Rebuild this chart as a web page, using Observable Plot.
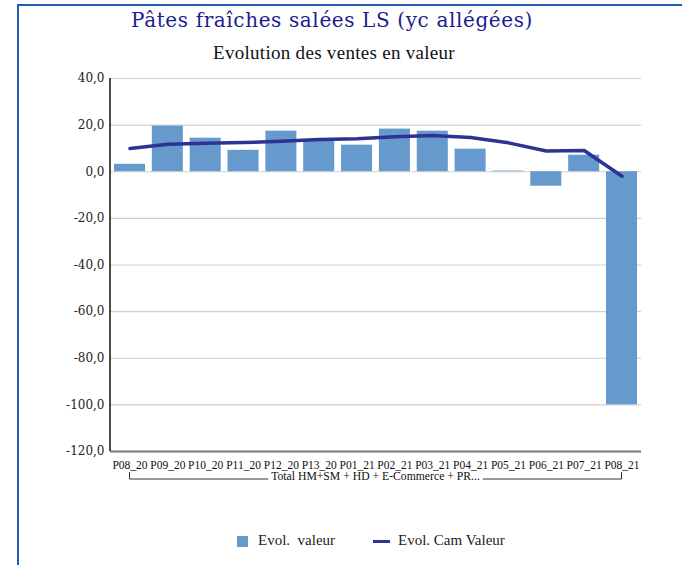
<!DOCTYPE html>
<html><head><meta charset="utf-8">
<script src="https://cdn.jsdelivr.net/npm/d3@7"></script>
<script src="https://cdn.jsdelivr.net/npm/@observablehq/plot@0.6"></script>
<style>
body{margin:0;background:#fff;width:682px;height:565px;overflow:hidden;position:relative;font-family:"Liberation Serif",serif;}
#frame{position:absolute;left:17px;top:4px;width:700px;height:600px;border-left:2px solid #1b5fae;border-top:2px solid #1b5fae;box-sizing:border-box;}
.ttl{position:absolute;white-space:nowrap;}
#title{top:8px;font-family:"DejaVu Serif",serif;font-size:20px;color:#1c1c8f;}
#subtitle{top:42px;font-size:19px;color:#111;}
#chart{position:absolute;left:0;top:60px;}
#chart svg text{font-family:"DejaVu Serif",serif !important;}
#chart svg text.xl{font-family:"Liberation Serif",serif !important;}
#legend{position:absolute;left:0;top:532px;width:682px;height:20px;font-size:15px;color:#222;}
.sw{position:absolute;}
.lt{position:absolute;top:0;white-space:pre;}
</style>
</head><body>
<div id="frame"></div>
<div id="title" class="ttl">Pâtes fraîches salées LS (yc allégées)</div>
<div id="subtitle" class="ttl">Evolution des ventes en valeur</div>
<div id="chart"></div>
<div id="legend">
  <div class="sw" style="left:237px;top:4px;width:11px;height:11px;background:#6699cc"></div>
  <div class="lt" id="l1" style="left:258px">Evol.  valeur</div>
  <div class="sw" style="left:373px;top:8px;width:17px;height:3px;background:#2f3293"></div>
  <div class="lt" id="l2" style="left:398px">Evol. Cam Valeur</div>
</div>
<script>
const categories = ["P08_20","P09_20","P10_20","P11_20","P12_20","P13_20","P01_21","P02_21","P03_21","P04_21","P05_21","P06_21","P07_21","P08_21"];
const evolValeur = [3.2,19.6,14.4,9.2,17.4,13.5,11.4,18.3,17.4,9.7,0.3,-6.2,7.1,-100.0];
const evolCamValeur = [10.0,11.8,12.2,12.5,13.1,13.8,14.2,15.0,15.6,14.7,12.4,8.9,9.1,-1.9];
const yTicks = [40,20,0,-20,-40,-60,-80,-100,-120];
const groupLabel = "Total HM+SM + HD + E-Commerce + PR...";

// fit heading texts to the reference extents
function fit(id, left, right){
  const el = document.getElementById(id);
  const n = el.textContent.length;
  const w = el.getBoundingClientRect().width;
  el.style.letterSpacing = ((right-left) - w)/n + "px";
  el.style.left = left + "px";
}
fit("title", 131, 533);
fit("subtitle", 213, 455);

const rows = categories.map((c,i)=>({cat:c, v:evolValeur[i], cam:evolCamValeur[i]}));

const plot = Plot.plot({
  width:682, height:440,
  marginLeft:110, marginRight:41, marginTop:18, marginBottom:49,
  style:{background:"transparent", overflow:"visible"},
  x:{domain:categories, paddingInner:0.18, paddingOuter:0.105, round:false, label:null},
  y:{domain:[-120,40], label:null},
  marks:[
    Plot.gridY(yTicks,{stroke:"#d0d0d0", strokeOpacity:1, strokeWidth:1.2}),
    Plot.barY(rows,{x:"cat", y:"v", fill:"#6699cc"}),
    Plot.ruleY([yTicks[yTicks.length-1]],{stroke:"#777", strokeWidth:2}),
    Plot.lineY(rows,{x:"cat", y:"cam", stroke:"#2f3293", strokeWidth:3.5}),
    Plot.axisY(yTicks,{tickSize:0, tickPadding:6, tickFormat:d=>d.toFixed(1).replace(".",","), fontSize:12, fill:"#222", label:null}),
    Plot.axisX({tickSize:0, tickPadding:9, fontSize:11.5, fill:"#111", label:null})
  ]
});
document.getElementById("chart").appendChild(plot);

const svg = d3.select(plot);
svg.selectAll("g[aria-label='x-axis tick label'] text").classed("xl", true);

// y axis line and group bracket, positioned from the plot's own scales
const xs = plot.scale("x"), ys = plot.scale("y");
const yTop = ys.apply(yTicks[0]), yBot = ys.apply(yTicks[yTicks.length-1]);
svg.append("line").attr("x1",110).attr("x2",110).attr("y1",yTop).attr("y2",yBot).attr("stroke","#111").attr("stroke-width",1.5);
const bx0 = xs.apply(categories[0]) + xs.bandwidth/2;
const bx1 = xs.apply(categories[categories.length-1]) + xs.bandwidth/2;
const by0 = yBot + 21, by1 = yBot + 28;
const mid = (bx0+bx1)/2;
const t = svg.append("text").attr("class","xl").attr("x",mid).attr("y",by1+1).attr("text-anchor","middle")
  .attr("font-size",11.7).attr("fill","#111").text(groupLabel);
const tw = t.node().getComputedTextLength();
const g = svg.append("g").attr("fill","none").attr("stroke","#333").attr("stroke-width",1);
g.append("path").attr("d",`M${bx0},${by0}V${by1}H${mid-tw/2-3}`);
g.append("path").attr("d",`M${bx1},${by0}V${by1}H${mid+tw/2+3}`);
</script>
</body></html>
